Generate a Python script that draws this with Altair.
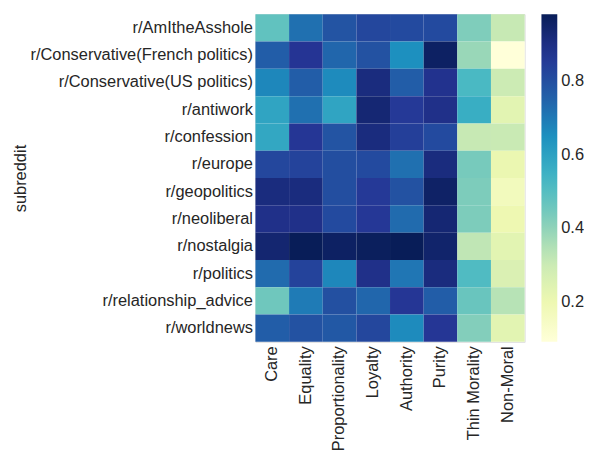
import altair as alt
import pandas as pd

subreddits = [
    "r/AmItheAsshole", "r/Conservative(French politics)", "r/Conservative(US politics)",
    "r/antiwork", "r/confession", "r/europe", "r/geopolitics", "r/neoliberal",
    "r/nostalgia", "r/politics", "r/relationship_advice", "r/worldnews",
]
foundations = ["Care", "Equality", "Proportionality", "Loyalty", "Authority",
               "Purity", "Thin Morality", "Non-Moral"]

care            = [0.48, 0.76, 0.67, 0.59, 0.58, 0.82, 0.91, 0.89, 0.935, 0.73, 0.455, 0.76]
equality        = [0.72, 0.87, 0.76, 0.72, 0.865, 0.83, 0.91, 0.89, 0.98, 0.83, 0.695, 0.79]
proportionality = [0.785, 0.74, 0.66, 0.59, 0.785, 0.80, 0.80, 0.81, 0.96, 0.67, 0.795, 0.775]
loyalty         = [0.82, 0.79, 0.91, 0.93, 0.91, 0.81, 0.855, 0.86, 0.97, 0.89, 0.74, 0.82]
authority       = [0.81, 0.65, 0.76, 0.855, 0.84, 0.72, 0.79, 0.73, 0.98, 0.705, 0.865, 0.66]
purity          = [0.81, 0.96, 0.88, 0.89, 0.81, 0.91, 0.955, 0.93, 0.945, 0.91, 0.76, 0.865]
thin_morality   = [0.425, 0.385, 0.52, 0.56, 0.315, 0.44, 0.43, 0.43, 0.325, 0.51, 0.465, 0.42]
non_moral       = [0.315, 0.093, 0.30, 0.235, 0.31, 0.21, 0.17, 0.20, 0.235, 0.26, 0.34, 0.235]

columns = [care, equality, proportionality, loyalty, authority, purity, thin_morality, non_moral]
tick_values = [0.2, 0.4, 0.6, 0.8]
vmin, vmax = 0.093, 0.98
ylgnbu = ["#ffffd9", "#edf8b1", "#c7e9b4", "#7fcdbb", "#41b6c4",
          "#1d91c0", "#225ea8", "#253494", "#081d58"]
stops = [vmin + i * (vmax - vmin) / 8 for i in range(9)]

rows = []
for f, col in zip(foundations, columns):
    for s, v in zip(subreddits, col):
        rows.append({"subreddit": s, "foundation": f, "value": v})
df = pd.DataFrame(rows)

FONT = "Liberation Sans"
TXT = "#262626"
FS = 16.6

chart = alt.Chart(df).mark_rect().encode(
    x=alt.X("foundation:N", sort=foundations, title=None,
            scale=alt.Scale(paddingInner=0, paddingOuter=0),
            axis=alt.Axis(labelAngle=270, ticks=False, domain=False, labelPadding=4,
                          labelFontSize=FS, labelColor=TXT, labelFont=FONT, labelLimit=0)),
    y=alt.Y("subreddit:N", sort=subreddits, title="subreddit",
            scale=alt.Scale(paddingInner=0, paddingOuter=0),
            axis=alt.Axis(ticks=False, domain=False, labelPadding=3,
                          labelFontSize=FS, labelColor=TXT, labelFont=FONT, labelLimit=0,
                          titleFontSize=FS, titleFontWeight="normal", titleColor=TXT,
                          titleFont=FONT, titleAngle=270, titleX=-232, titleY=165.5,
                          titleAlign="center", titleBaseline="alphabetic")),
    color=alt.Color("value:Q",
                    scale=alt.Scale(domain=stops, range=ylgnbu, interpolate="rgb"),
                    legend=alt.Legend(title=None, values=tick_values, format=".1f",
                                      gradientLength=331, gradientThickness=16,
                                      offset=17, padding=0, labelFontSize=FS,
                                      labelColor=TXT, labelFont=FONT, labelOffset=4,
                                      gradientStrokeWidth=0)),
).properties(
    width=272, height=331,
    autosize=alt.AutoSizeParams(type="none"),
    padding={"left": 250, "top": 4, "right": 60, "bottom": 110},
).configure_view(stroke=None).configure(background="white")

chart.save("out.html", embed_options={"renderer": "svg", "actions": False})
